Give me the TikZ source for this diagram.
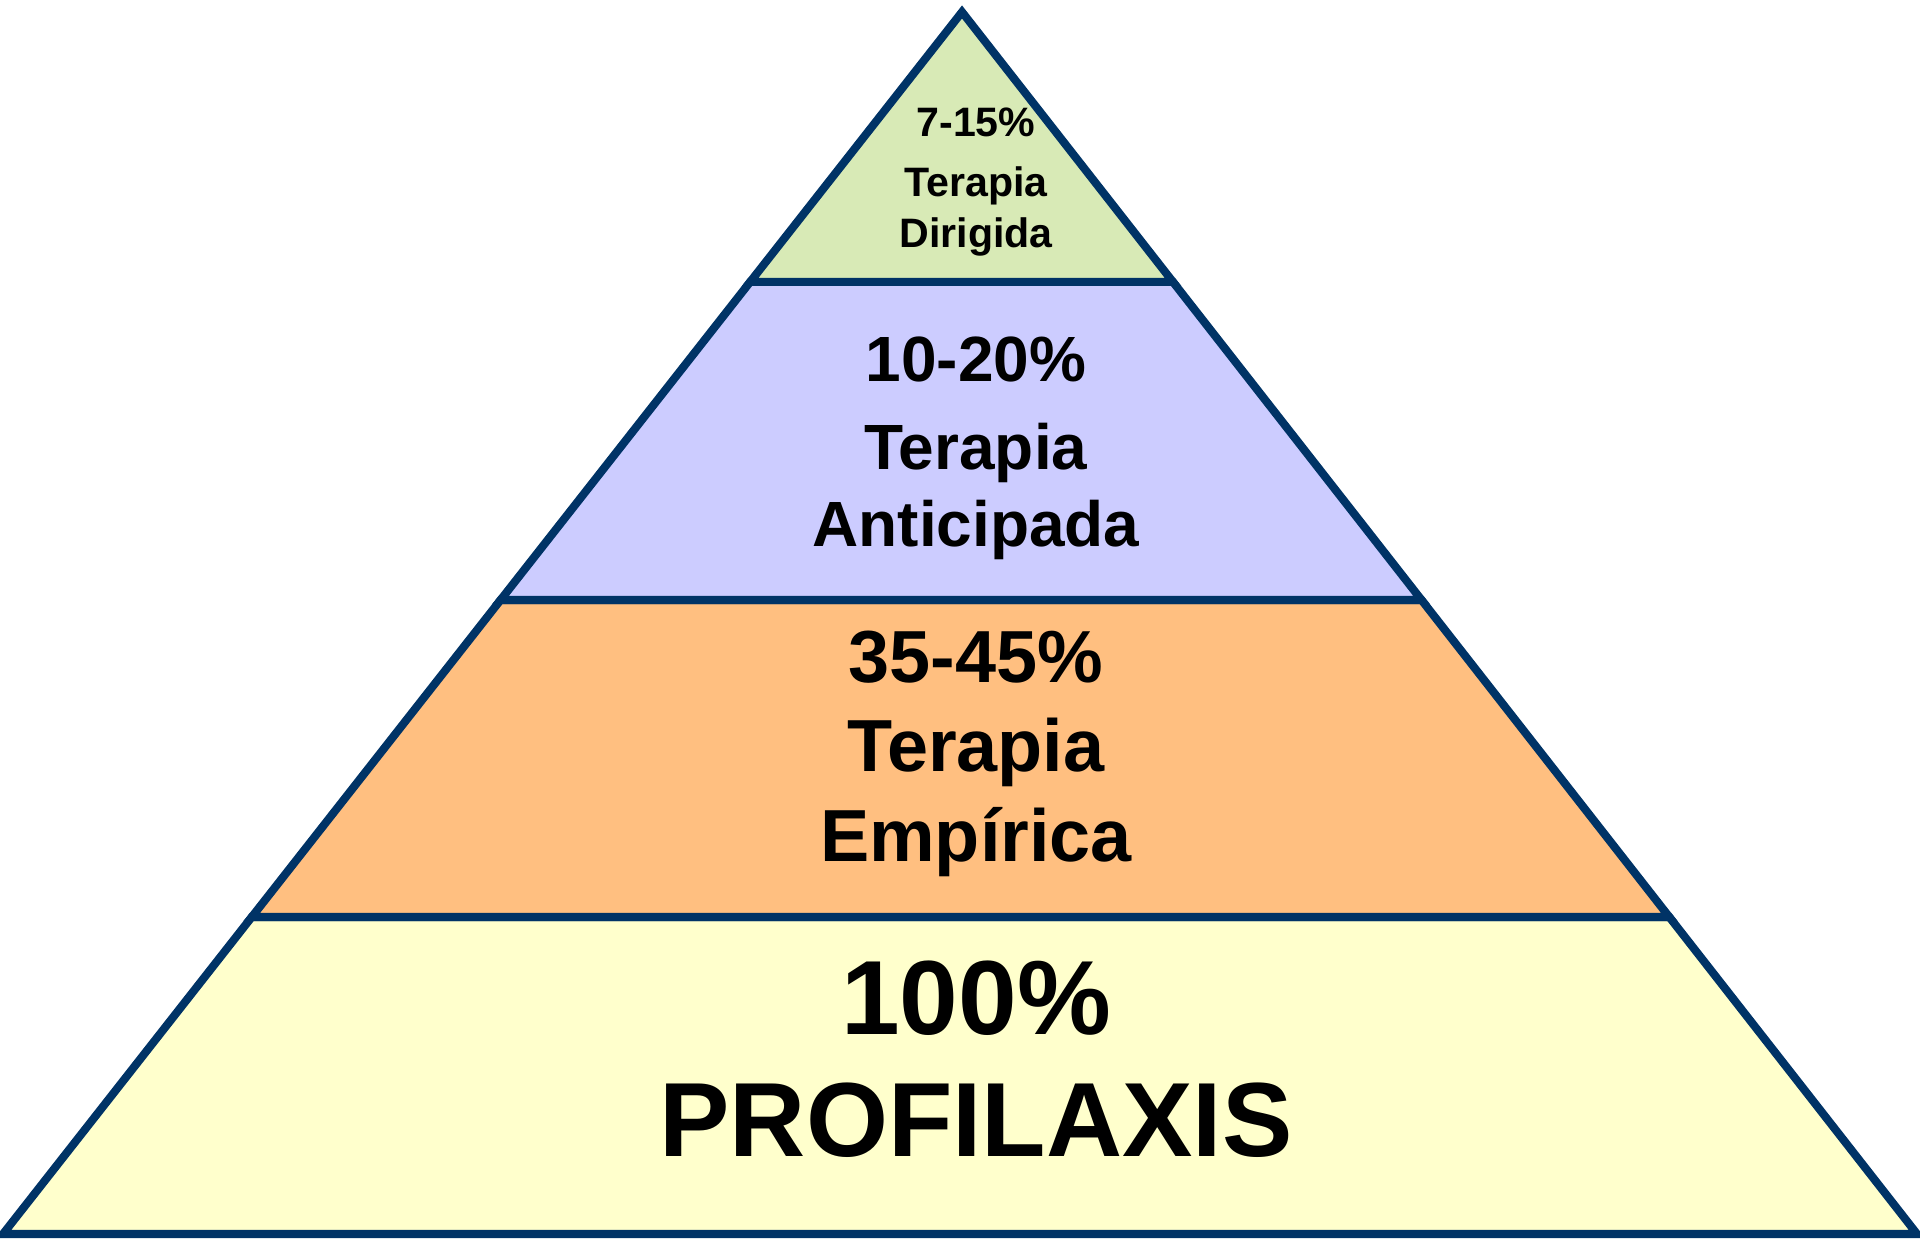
\documentclass[tikz,border=0pt]{standalone}
\usepackage{fontspec}
\setmainfont{Liberation Sans}
\usetikzlibrary{calc}

\begin{document}
\begin{tikzpicture}[x=1cm,y=1cm,
    band/.style={draw=pyrblue,line width=2.3pt},
    lbl/.style={anchor=base,inner sep=0pt,font=\bfseries\fontsize{#1}{#1}\selectfont}]
  \definecolor{pyrblue}{HTML}{003366}
  \definecolor{tipgreen}{HTML}{D8EAB6}
  \definecolor{lavband}{HTML}{CCCCFF}
  \definecolor{orangeband}{HTML}{FFBF80}
  \definecolor{yellowband}{HTML}{FFFFCC}

  % sizes
  \def\xm{9.76}  % text centre
  \def\ta{0.2209} % band edges, as part of the side
  \def\tb{0.4812}
  \def\tc{0.7406}

  \useasboundingbox (0,0) rectangle (19.2,12.45);

  % corners
  \coordinate (apex) at (9.62,12.33);
  \coordinate (bl) at (0.03,0.11);
  \coordinate (br) at (19.17,0.11);
  \coordinate (l1) at ($(apex)!\ta!(bl)$);
  \coordinate (r1) at ($(apex)!\ta!(br)$);
  \coordinate (l2) at ($(apex)!\tb!(bl)$);
  \coordinate (r2) at ($(apex)!\tb!(br)$);
  \coordinate (l3) at ($(apex)!\tc!(bl)$);
  \coordinate (r3) at ($(apex)!\tc!(br)$);

  % bands
  \draw[band,fill=yellowband] (l3) -- (r3) -- (br) -- (bl) -- cycle;
  \draw[band,fill=orangeband] (l2) -- (r2) -- (r3) -- (l3) -- cycle;
  \draw[band,fill=lavband] (l1) -- (r1) -- (r2) -- (l2) -- cycle;
  \draw[band,fill=tipgreen] (apex) -- (r1) -- (l1) -- cycle;

  % labels
  \node[lbl=11.7] (tipPct) at (\xm,11.08) {7-15\%};
  \node[lbl=11.7] (tipTer) at (\xm,10.48) {Terapia};
  \node[lbl=11.7] (tipDir) at (\xm,9.97) {Dirigida};

  \node[lbl=18.2] (antPct) at (\xm,8.63) {10-20\%};
  \node[lbl=18.2] (antTer) at (\xm,7.75) {Terapia};
  \node[lbl=18.2] (antAnt) at (\xm,6.98) {Anticipada};

  \node[lbl=21] (empPct) at (\xm,5.62) {35-45\%};
  \node[lbl=21] (empTer) at (\xm,4.73) {Terapia};
  \node[lbl=21] (empEmp) at (\xm,3.83) {Empírica};

  \node[lbl=30] (proPct) at (\xm,2.10) {100\%};
  \node[lbl=30] (proPro) at (\xm,0.88) {PROFILAXIS};
\end{tikzpicture}
\end{document}
